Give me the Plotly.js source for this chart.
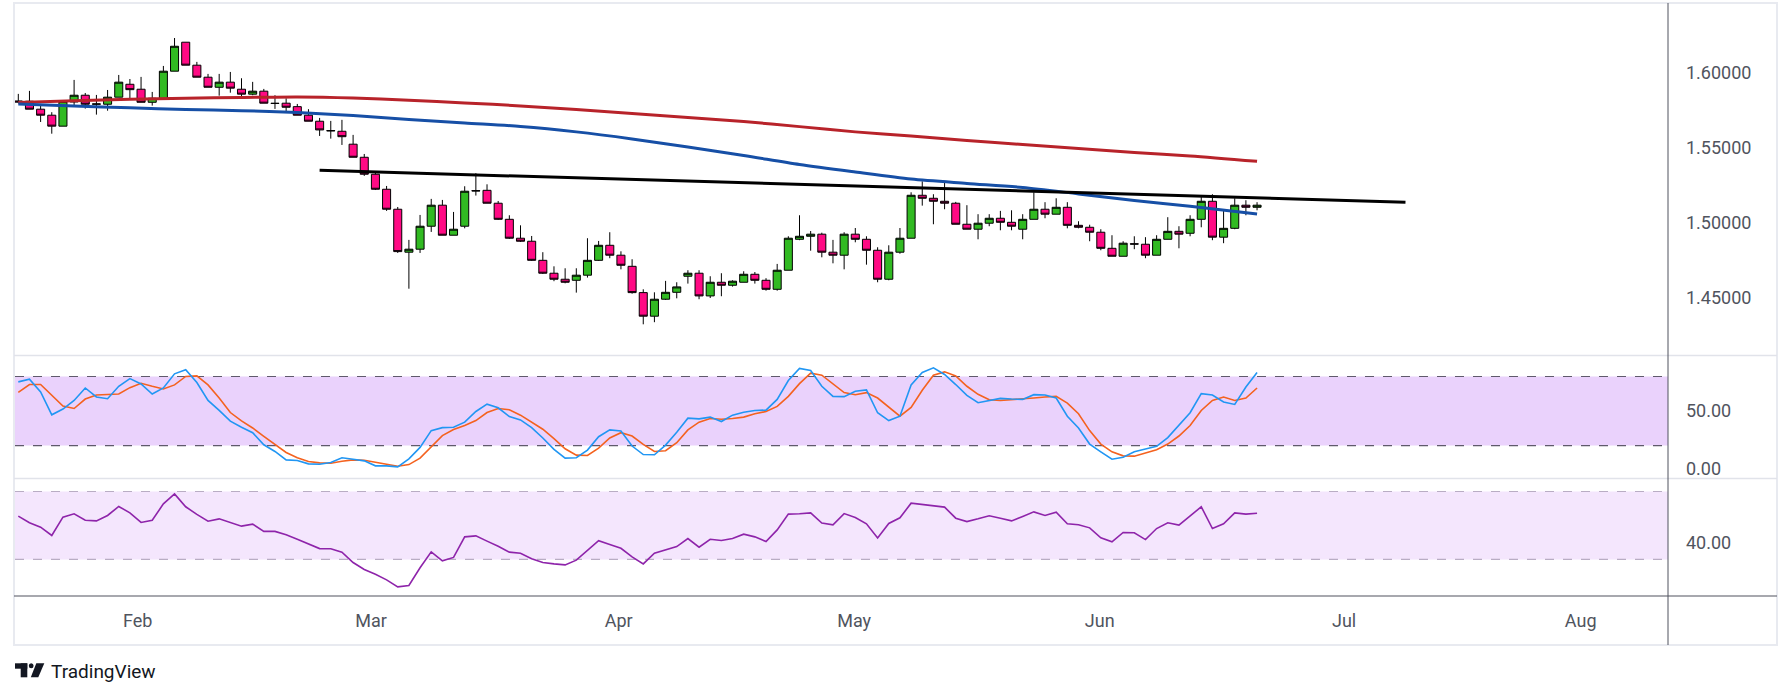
<!DOCTYPE html>
<html>
<head>
<meta charset="utf-8">
<script src="https://cdn.plot.ly/plotly-3.0.1.min.js"></script>
<style>
  html, body { margin: 0; padding: 0; background: #ffffff; }
  #chart { width: 1791px; height: 698px; }
</style>
</head>
<body>
<div id="chart"></div>
<script>
// ---------- DATA ----------
const monthLabels = ['Feb', 'Mar', 'Apr', 'May', 'Jun', 'Jul', 'Aug'];
const monthTickBars = [10.7, 31.6, 53.8, 74.9, 96.9, 118.8, 140.0];

const openP = [
  1.5809,1.5807,1.5754,1.5714,1.5641,1.5802,1.5847,1.5787,1.5787,1.5834,
  1.5920,1.5887,1.5800,1.5824,1.6007,1.6200,1.6047,1.5967,1.5900,1.5934,
  1.5887,1.5854,1.5874,1.5794,1.5794,1.5771,1.5714,1.5674,1.5612,1.5607,
  1.5521,1.5434,1.5321,1.5221,1.5088,1.4802,1.4822,1.4975,1.5115,1.4915,
  1.4975,1.5212,1.5214,1.5128,1.5021,1.4895,1.4875,1.4748,1.4662,1.4622,
  1.4615,1.4649,1.4748,1.4848,1.4782,1.4708,1.4533,1.4376,1.4489,1.4535,
  1.4642,1.4662,1.4511,1.4602,1.4582,1.4602,1.4655,1.4615,1.4555,1.4682,
  1.4888,1.4908,1.4922,1.4802,1.4782,1.4922,1.4888,1.4815,1.4622,1.4802,
  1.4895,1.5181,1.5161,1.5141,1.5128,1.4988,1.4955,1.4995,1.5028,1.5001,
  1.4955,1.5021,1.5088,1.5055,1.5101,1.4981,1.4968,1.4935,1.4828,1.4775,
  1.4858,1.4855,1.4782,1.4888,1.4941,1.4928,1.5021,1.5141,1.4902,1.4961,
  1.5115,1.5101
];
const highP = [
  1.5856,1.5876,1.5789,1.5734,1.5814,1.5949,1.5862,1.5849,1.5882,1.5982,
  1.5955,1.5969,1.5869,1.6042,1.6228,1.6200,1.6069,1.5989,1.5989,1.6002,
  1.5960,1.5936,1.5889,1.5847,1.5827,1.5789,1.5754,1.5696,1.5676,1.5683,
  1.5583,1.5456,1.5336,1.5243,1.5103,1.4884,1.5050,1.5157,1.5150,1.5070,
  1.5241,1.5328,1.5254,1.5143,1.5048,1.4981,1.4910,1.4802,1.4708,1.4695,
  1.4695,1.4895,1.4877,1.4935,1.4808,1.4755,1.4555,1.4535,1.4611,1.4602,
  1.4682,1.4682,1.4642,1.4662,1.4615,1.4675,1.4670,1.4629,1.4724,1.4908,
  1.5048,1.4943,1.4932,1.4884,1.4935,1.4963,1.4908,1.4835,1.4848,1.4963,
  1.5201,1.5274,1.5188,1.5274,1.5137,1.5115,1.5055,1.5055,1.5077,1.5081,
  1.5055,1.5201,1.5135,1.5161,1.5135,1.5008,1.4985,1.4955,1.4915,1.4875,
  1.4908,1.4902,1.4915,1.5035,1.4975,1.5048,1.5181,1.5188,1.5081,1.5161,
  1.5148,1.5135
];
const lowP = [
  1.5798,1.5754,1.5669,1.5591,1.5641,1.5771,1.5758,1.5718,1.5744,1.5834,
  1.5816,1.5800,1.5778,1.5824,1.6007,1.6047,1.5967,1.5900,1.5844,1.5864,
  1.5838,1.5847,1.5794,1.5756,1.5738,1.5714,1.5674,1.5576,1.5558,1.5516,
  1.5434,1.5310,1.5216,1.5077,1.4797,1.4559,1.4797,1.4937,1.4915,1.4915,
  1.4961,1.5179,1.5128,1.5017,1.4890,1.4870,1.4744,1.4657,1.4609,1.4595,
  1.4533,1.4633,1.4744,1.4762,1.4688,1.4526,1.4322,1.4336,1.4484,1.4495,
  1.4593,1.4489,1.4497,1.4509,1.4573,1.4602,1.4593,1.4546,1.4546,1.4682,
  1.4882,1.4812,1.4768,1.4728,1.4688,1.4868,1.4719,1.4602,1.4615,1.4792,
  1.4895,1.5112,1.4988,1.5088,1.4988,1.4955,1.4888,1.4975,1.4948,1.4948,
  1.4888,1.5021,1.5028,1.5055,1.4961,1.4961,1.4875,1.4815,1.4775,1.4775,
  1.4822,1.4762,1.4782,1.4888,1.4828,1.4908,1.4968,1.4882,1.4862,1.4955,
  1.5048,1.5081
];
const closeP = [
  1.5802,1.5754,1.5714,1.5641,1.5807,1.5847,1.5787,1.5789,1.5834,1.5934,
  1.5884,1.5800,1.5827,1.6007,1.6173,1.6047,1.5967,1.5900,1.5934,1.5894,
  1.5854,1.5874,1.5794,1.5792,1.5767,1.5714,1.5674,1.5616,1.5610,1.5571,
  1.5434,1.5321,1.5221,1.5088,1.4806,1.4822,1.4975,1.5115,1.4915,1.4955,
  1.5208,1.5210,1.5128,1.5021,1.4895,1.4875,1.4748,1.4662,1.4622,1.4602,
  1.4649,1.4748,1.4848,1.4782,1.4715,1.4533,1.4376,1.4489,1.4535,1.4571,
  1.4662,1.4511,1.4602,1.4582,1.4609,1.4655,1.4615,1.4555,1.4682,1.4895,
  1.4908,1.4922,1.4802,1.4782,1.4922,1.4888,1.4815,1.4622,1.4802,1.4895,
  1.5181,1.5161,1.5141,1.5128,1.4988,1.4955,1.4995,1.5028,1.5001,1.4975,
  1.5021,1.5088,1.5055,1.5101,1.4981,1.4968,1.4935,1.4828,1.4775,1.4862,
  1.4856,1.4782,1.4888,1.4941,1.4922,1.5021,1.5141,1.4902,1.4961,1.5115,
  1.5101,1.5115
];

// moving averages, read at every 5th bar
const maBars = [0,5,10,15,20,25,30,35,40,45,50,55,60,65,70,75,80,85,90,95,100,105,111];
const maRed = [1.5799,1.5810,1.5820,1.5827,1.5832,1.5836,1.5829,1.5814,1.5796,1.5776,1.5752,1.5726,
               1.5699,1.5672,1.5638,1.5603,1.5576,1.5546,1.5519,1.5493,1.5466,1.5443,1.5407];
const maBlue = [1.5789,1.5776,1.5763,1.5752,1.5744,1.5732,1.5712,1.5686,1.5662,1.5639,1.5603,1.5556,
                1.5502,1.5446,1.5386,1.5336,1.5289,1.5260,1.5233,1.5190,1.5146,1.5108,1.5057];

// hand-drawn trend line
const trendBars = [27.0, 124.3];
const trendPrices = [1.5347, 1.5135];

// stochastic %K / %D
const stochK = [
  75.3,77.6,66.5,46.7,51.7,59.2,70.0,62.2,60.7,71.5,
  78.2,73.5,64.8,70.0,82.3,85.8,74.7,59.2,50.5,41.2,
  35.9,31.2,20.7,14.9,7.6,7.0,4.1,3.8,5.3,9.4,
  8.2,6.7,2.4,2.4,1.5,8.5,18.4,33.0,35.6,35.9,
  40.3,49.6,56.0,52.8,45.2,42.3,35.6,26.6,16.7,9.1,
  9.4,16.1,27.7,33.6,32.7,19.6,12.2,12.0,20.4,31.5,
  43.8,43.2,44.7,40.9,46.4,49.0,50.5,50.8,60.1,76.5,
  87.0,85.2,71.5,62.7,62.5,67.1,68.3,48.5,41.7,45.5,
  72.7,83.5,87.5,81.7,73.0,63.6,57.2,59.0,61.0,60.4,
  60.1,64.2,63.9,61.3,45.5,35.3,21.3,14.6,8.2,9.9,
  14.6,17.0,19.3,26.9,37.7,48.5,65.1,63.9,57.8,55.7,
  70.9,83.5
];
const stochD = [
  66.2,73.0,73.0,63.6,54.3,52.2,60.4,63.9,64.5,64.8,
  70.3,74.1,71.5,69.2,72.7,80.0,80.5,72.7,61.3,48.7,
  41.5,35.3,28.0,21.3,14.0,9.4,6.2,5.0,4.7,6.4,
  7.6,7.3,5.3,3.8,2.1,3.5,9.1,19.0,28.6,33.9,
  37.4,41.7,48.7,52.2,51.1,46.4,40.6,34.2,26.0,17.2,
  11.7,11.4,17.8,26.6,31.2,28.3,21.0,14.9,15.5,22.5,
  33.6,40.3,43.5,42.9,43.5,44.7,47.6,49.6,54.0,62.7,
  73.8,82.9,81.1,73.2,66.0,64.2,66.0,61.3,53.4,45.5,
  53.1,68.0,81.1,84.0,80.5,71.5,64.5,59.8,59.2,59.8,
  60.1,61.3,62.2,62.7,56.9,47.6,33.0,21.3,14.6,11.1,
  10.8,13.4,16.4,21.3,28.3,37.4,50.5,59.2,62.2,59.2,
  61.3,70.0
];
const stochLevels = [20, 80];
const stochTickVals = [0, 50];
const stochTickText = ['0.00', '50.00'];

// RSI
const rsi = [
  55.5,51.6,49.0,44.1,54.9,56.9,53.1,52.7,55.9,61.2,
  57.4,51.8,53.1,62.7,68.6,61.0,56.5,52.5,53.9,51.6,
  49.6,50.8,46.5,46.5,44.5,41.9,39.2,36.4,36.3,34.3,
  28.2,24.1,21.3,18.0,13.9,14.7,25.1,34.5,29.2,31.2,
  43.3,43.9,40.8,37.8,34.3,33.7,30.4,28.2,27.4,26.8,
  29.6,35.5,41.0,38.8,36.6,31.5,27.4,33.7,35.7,37.6,
  42.3,37.2,41.9,41.2,42.3,44.9,43.3,40.6,47.4,56.7,
  56.9,57.4,51.4,50.4,57.0,54.7,51.0,42.7,51.2,54.5,
  63.1,62.2,61.6,60.8,54.3,52.3,53.9,55.7,54.3,52.7,
  55.3,58.0,55.9,57.8,51.0,50.4,48.6,42.7,40.4,45.9,
  45.7,41.7,48.2,51.6,50.2,55.5,61.0,48.2,51.0,57.4,
  56.7,57.2
];
const rsiLevels = [30, 70];
const rsiTickVals = [40];
const rsiTickText = ['40.00'];

const priceTickVals = [1.45, 1.50, 1.55, 1.60];

// ---------- LAYOUT HELPERS (pixel -> paper) ----------
const W = 1791, H = 698;
const ML = 15, MR = 123, MT = 3, MB = 102;
const PW = W - ML - MR, PH = H - MT - MB;
const px = v => (v - ML) / PW;
const py = v => (H - MB - v) / PH;

const barIdx = openP.map((_, i) => i);
const axisFont = { family: 'Roboto, "Liberation Sans", sans-serif', size: 18, color: '#50545e' };

const traces = [
  {
    type: 'candlestick', x: barIdx, open: openP, high: highP, low: lowP, close: closeP,
    xaxis: 'x', yaxis: 'y', hoverinfo: 'skip', whiskerwidth: 0,
    increasing: { line: { color: '#000000', width: 1 }, fillcolor: '#31ba22' },
    decreasing: { line: { color: '#000000', width: 1 }, fillcolor: '#ff0a84' },
    showlegend: false
  },
  {
    type: 'scatter', mode: 'lines', x: maBars, y: maRed, xaxis: 'x', yaxis: 'y',
    line: { color: '#b8232a', width: 3, shape: 'spline', smoothing: 0.8 }, hoverinfo: 'skip', showlegend: false
  },
  {
    type: 'scatter', mode: 'lines', x: maBars, y: maBlue, xaxis: 'x', yaxis: 'y',
    line: { color: '#164fa6', width: 3, shape: 'spline', smoothing: 0.8 }, hoverinfo: 'skip', showlegend: false
  },
  {
    type: 'scatter', mode: 'lines', x: trendBars, y: trendPrices, xaxis: 'x', yaxis: 'y',
    line: { color: '#000000', width: 3 }, hoverinfo: 'skip', showlegend: false
  },
  {
    type: 'scatter', mode: 'lines', x: barIdx, y: stochD, xaxis: 'x', yaxis: 'y2',
    line: { color: '#f4621f', width: 1.6 }, hoverinfo: 'skip', showlegend: false
  },
  {
    type: 'scatter', mode: 'lines', x: barIdx, y: stochK, xaxis: 'x', yaxis: 'y2',
    line: { color: '#2196f3', width: 1.6 }, hoverinfo: 'skip', showlegend: false
  },
  {
    type: 'scatter', mode: 'lines', x: barIdx, y: rsi, xaxis: 'x', yaxis: 'y3',
    line: { color: '#8e24aa', width: 1.6 }, hoverinfo: 'skip', showlegend: false
  }
];

const shapes = [
  // indicator bands
  { type: 'rect', xref: 'x domain', yref: 'y2', x0: 0, x1: 1, y0: stochLevels[0], y1: stochLevels[1],
    fillcolor: '#ead2fc', line: { width: 0 }, layer: 'below' },
  { type: 'rect', xref: 'x domain', yref: 'y3', x0: 0, x1: 1, y0: rsiLevels[0], y1: rsiLevels[1],
    fillcolor: '#f4e6fd', line: { width: 0 }, layer: 'below' }
];
stochLevels.forEach(v => shapes.push({ type: 'line', xref: 'x domain', yref: 'y2', x0: 0, x1: 1, y0: v, y1: v,
  line: { color: '#5f5a6b', width: 1.2, dash: 'dash' }, layer: 'below' }));
rsiLevels.forEach(v => shapes.push({ type: 'line', xref: 'x domain', yref: 'y3', x0: 0, x1: 1, y0: v, y1: v,
  line: { color: '#b9adc4', width: 1.2, dash: 'dash' }, layer: 'below' }));

// frame, pane separators and axis lines
shapes.push(
  { type: 'rect', xref: 'paper', yref: 'paper', x0: px(14), x1: px(1777), y0: py(645), y1: py(3),
    line: { color: '#e8eaf0', width: 2 }, fillcolor: 'rgba(0,0,0,0)', layer: 'below' },
  { type: 'line', xref: 'paper', yref: 'paper', x0: px(14), x1: px(1777), y0: py(355.4), y1: py(355.4),
    line: { color: '#e1e3ea', width: 1.5 } },
  { type: 'line', xref: 'paper', yref: 'paper', x0: px(14), x1: px(1777), y0: py(478.4), y1: py(478.4),
    line: { color: '#e1e3ea', width: 1.5 } },
  { type: 'line', xref: 'paper', yref: 'paper', x0: px(14), x1: px(1777), y0: py(596), y1: py(596),
    line: { color: '#50535e', width: 1.2 } },
  { type: 'line', xref: 'paper', yref: 'paper', x0: px(1668), x1: px(1668), y0: py(3), y1: py(645),
    line: { color: '#50535e', width: 1 } }
);

// TradingView logo mark
shapes.push(
  { type: 'rect', xref: 'paper', yref: 'paper', x0: px(15), x1: px(27.3), y0: py(668.7), y1: py(663.3),
    fillcolor: '#131722', line: { width: 0 } },
  { type: 'rect', xref: 'paper', yref: 'paper', x0: px(20.7), x1: px(27.3), y0: py(677.3), y1: py(663.3),
    fillcolor: '#131722', line: { width: 0 } },
  { type: 'circle', xref: 'paper', yref: 'paper', x0: px(28.8), x1: px(33.6), y0: py(668.3), y1: py(663.3),
    fillcolor: '#131722', line: { width: 0 } },
  { type: 'path', xref: 'paper', yref: 'paper',
    path: 'M ' + px(36.3) + ' ' + py(663.3) + ' L ' + px(44.3) + ' ' + py(663.3) +
          ' L ' + px(38.3) + ' ' + py(677.3) + ' L ' + px(30.8) + ' ' + py(677.3) + ' Z',
    fillcolor: '#131722', line: { width: 0 } }
);

const layout = {
  width: W, height: H,
  margin: { l: ML, r: MR, t: MT, b: MB, pad: 0 },
  paper_bgcolor: '#ffffff', plot_bgcolor: '#ffffff',
  showlegend: false,
  boxgap: 0.28,
  boxgroupgap: 0,
  xaxis: {
    anchor: 'y3', domain: [0, 1],
    range: [(ML - 18.3) / 11.16, (1668 - 18.3) / 11.16],
    rangeslider: { visible: false },
    showgrid: false, zeroline: false, showline: false,
    tickmode: 'array', tickvals: monthTickBars, ticktext: monthLabels,
    ticks: '', ticklabelstandoff: 12, tickfont: axisFont, fixedrange: true
  },
  yaxis: {
    domain: [py(355.4), 1], side: 'right', anchor: 'x',
    range: [1.4115, 1.6461],
    showgrid: false, zeroline: false, showline: false,
    tickmode: 'array', tickvals: priceTickVals, tickformat: '.5f',
    ticks: '', ticklabelstandoff: 17, tickfont: axisFont
  },
  yaxis2: {
    domain: [py(478.4), py(355.4)], side: 'right', anchor: 'x',
    range: [-8.5, 98.3],
    showgrid: false, zeroline: false, showline: false,
    tickmode: 'array', tickvals: stochTickVals, ticktext: stochTickText,
    ticks: '', ticklabelstandoff: 17, tickfont: axisFont
  },
  yaxis3: {
    domain: [0, py(478.4)], side: 'right', anchor: 'x',
    range: [8.5, 77.7],
    showgrid: false, zeroline: false, showline: false,
    tickmode: 'array', tickvals: rsiTickVals, ticktext: rsiTickText,
    ticks: '', ticklabelstandoff: 17, tickfont: axisFont
  },
  shapes: shapes,
  annotations: [
    { xref: 'paper', yref: 'paper', x: px(49), y: py(671.5), xanchor: 'left', yanchor: 'middle',
      text: 'TradingView', showarrow: false,
      font: { family: 'Roboto, "Liberation Sans", sans-serif', size: 19, color: '#131722' } }
  ]
};

Plotly.newPlot('chart', traces, layout, { staticPlot: true, displayModeBar: false });
</script>
</body>
</html>
